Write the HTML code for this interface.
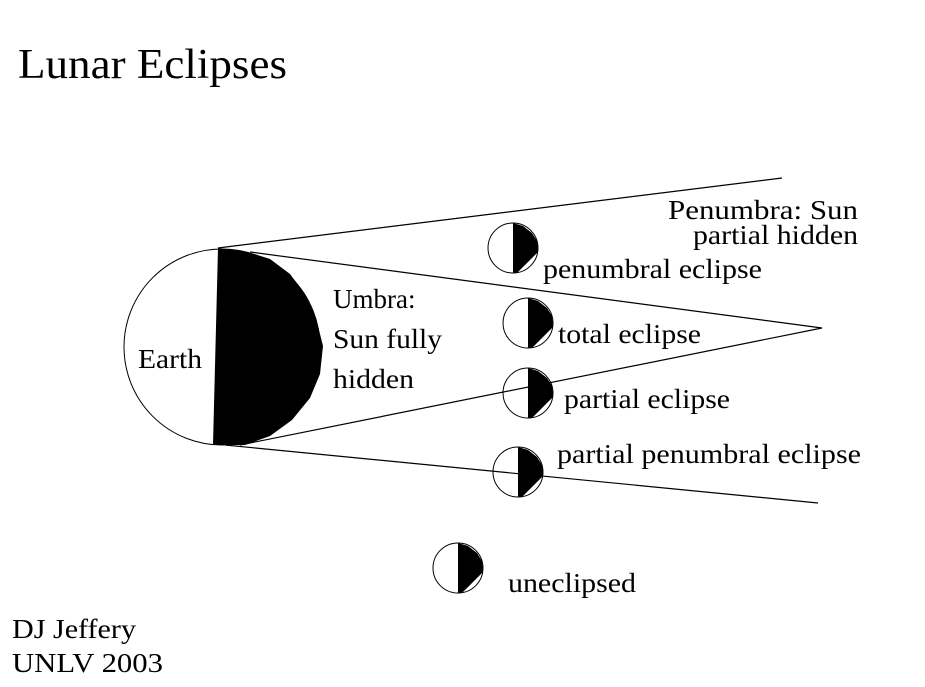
<!DOCTYPE html>
<html><head><style>
html,body{margin:0;padding:0;background:#fff;}
svg{display:block;}
text{font-family:"Liberation Serif",serif;fill:#000;}
</style></head><body>
<svg width="925" height="687" viewBox="0 0 925 687" xmlns="http://www.w3.org/2000/svg">
<defs>
<g id="moon">
<circle cx="0" cy="0" r="25" fill="#fff" stroke="#000" stroke-width="1"/>
<polygon points="0,-25 10,-22 19,-15 24,-7 25,4 4,25 0,25" fill="#000"/>
</g>
</defs>
<text x="18" y="78" font-size="42" textLength="269" lengthAdjust="spacingAndGlyphs">Lunar Eclipses</text>
<circle cx="222" cy="347" r="98" fill="#fff" stroke="#000" stroke-width="1"/>
<polygon points="218,248 248,252 270,259 290,274 305,294 316,318 323,346 320,374 310,398 292,420 270,436 245,445 213,445" fill="#000"/>
<use href="#moon" x="513" y="248"/>
<use href="#moon" x="528" y="323"/>
<use href="#moon" x="528" y="393"/>
<use href="#moon" x="518" y="472"/>
<use href="#moon" x="458" y="568"/>
<line x1="218" y1="248" x2="782" y2="178" stroke="#000" stroke-width="1.2"/>
<line x1="250" y1="252" x2="822" y2="328" stroke="#000" stroke-width="1.2"/>
<line x1="240" y1="445" x2="822" y2="328" stroke="#000" stroke-width="1.2"/>
<line x1="225" y1="445" x2="818" y2="503" stroke="#000" stroke-width="1.2"/>
<g font-size="27">
<text x="138" y="368" textLength="64" lengthAdjust="spacingAndGlyphs">Earth</text>
<text x="333" y="308">Umbra:</text>
<text x="333" y="348" textLength="109" lengthAdjust="spacingAndGlyphs">Sun fully</text>
<text x="333" y="388" textLength="81" lengthAdjust="spacingAndGlyphs">hidden</text>
<text x="668" y="219" textLength="190" lengthAdjust="spacingAndGlyphs">Penumbra:  Sun</text>
<text x="693" y="244" textLength="165" lengthAdjust="spacingAndGlyphs">partial hidden</text>
<text x="543" y="278" textLength="219" lengthAdjust="spacingAndGlyphs">penumbral eclipse</text>
<text x="558" y="343" textLength="143" lengthAdjust="spacingAndGlyphs">total eclipse</text>
<text x="564" y="408" textLength="166" lengthAdjust="spacingAndGlyphs">partial eclipse</text>
<text x="557" y="463" textLength="304" lengthAdjust="spacingAndGlyphs">partial penumbral eclipse</text>
<text x="508" y="592" textLength="128" lengthAdjust="spacingAndGlyphs">uneclipsed</text>
<text x="12" y="638" textLength="124" lengthAdjust="spacingAndGlyphs">DJ Jeffery</text>
<text x="12" y="672" textLength="151" lengthAdjust="spacingAndGlyphs">UNLV 2003</text>
</g>
</svg>
</body></html>
